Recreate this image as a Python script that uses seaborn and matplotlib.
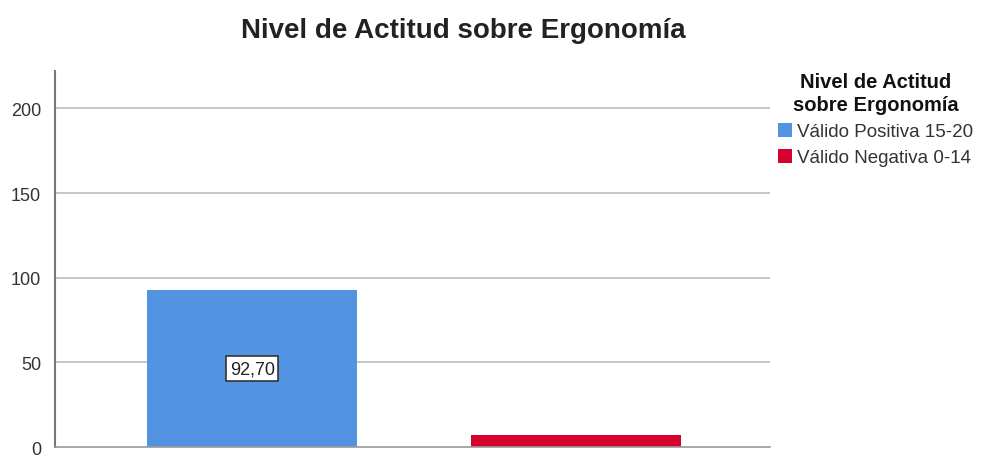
import matplotlib
matplotlib.use("Agg")
import matplotlib.pyplot as plt
import seaborn as sns
import pandas as pd

categories = ["Válido Positiva 15-20", "Válido Negativa 0-14"]
values = [92.70, 7.30]
colors = ["#5294E2", "#D5012F"]
yticks = [0, 50, 100, 150, 200]

df = pd.DataFrame({"cat": categories, "val": values})

sns.set_style("white")
plt.rcParams['font.family'] = ['Liberation Sans', 'DejaVu Sans']

fig = plt.figure(figsize=(9.86, 4.6), dpi=100)
ax = fig.add_axes([0.0558, 0.026, 0.725, 0.817])

sns.barplot(data=df, x="cat", y="val", hue="cat", palette=colors,
            width=0.65, ax=ax, legend=False, saturation=1,
            edgecolor="none", linewidth=0)

ax.set_ylim(0, 222)
ax.set_xlim(-0.61, 1.6)
ax.set_yticks(yticks)
ax.set_yticklabels([str(t) for t in yticks], fontsize=13, color="#333333")
ax.set_xticks([])
ax.set_xlabel("")
ax.set_ylabel("")
for y in yticks[1:]:
    ax.axhline(y, color="#BDBDBD", lw=1.2, zorder=0)
for s in ["top", "right"]:
    ax.spines[s].set_visible(False)
ax.spines["left"].set_color("#777777")
ax.spines["left"].set_linewidth(1.5)
ax.spines["bottom"].set_color("#999999")
ax.spines["bottom"].set_linewidth(1.2)
ax.tick_params(axis="y", length=0, pad=10)

ax.text(0, values[0] / 2, "92,70", ha="center", va="center", fontsize=13,
        color="#222222",
        bbox=dict(boxstyle="square,pad=0.2", fc="white", ec="#333333", lw=1.2))

fig.text(0.47, 0.932, "Nivel de Actitud sobre Ergonomía", ha="center",
         va="center", fontsize=20, fontweight="bold", color="#222222")

from matplotlib.patches import Patch
handles = [Patch(facecolor=c, edgecolor="none") for c in colors]
leg = fig.legend(handles, categories, loc="upper left",
                 bbox_to_anchor=(0.789, 0.842), frameon=False, fontsize=13.5,
                 title="Nivel de Actitud\nsobre Ergonomía",
                 title_fontproperties={"weight": "bold", "size": 14.5},
                 handlelength=0.75, handleheight=0.8, handletextpad=0.25,
                 labelspacing=0.45, borderpad=0.0, borderaxespad=0)
leg._legend_box.align = "center"
leg.get_title().set_linespacing(1.3)
leg.get_title().set_multialignment("center")
leg.get_title().set_color("#111111")
for t in leg.get_texts():
    t.set_color("#333333")

fig.savefig("out.png", dpi=100)
